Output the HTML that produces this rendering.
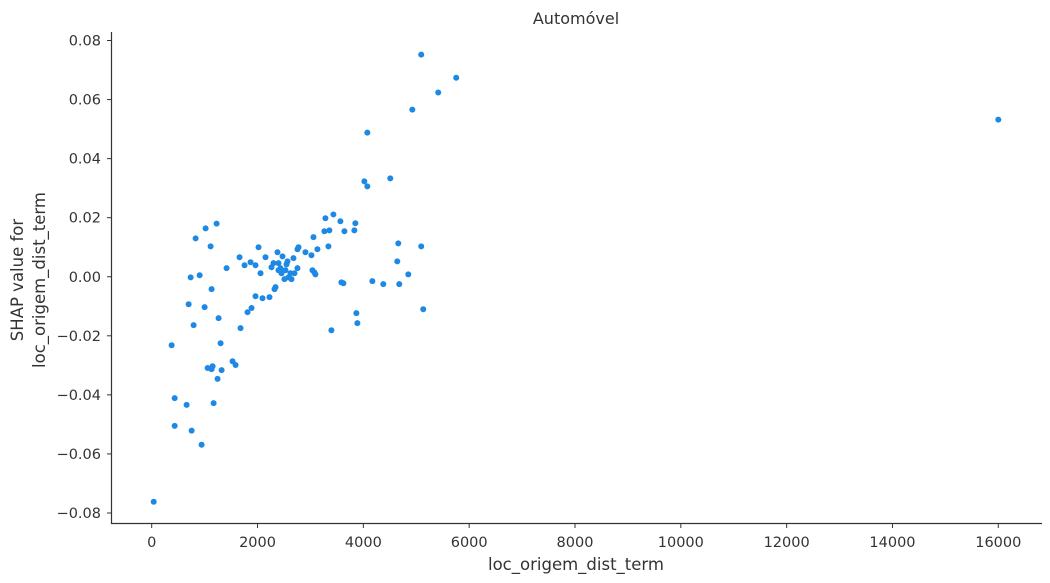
<!DOCTYPE html>
<html><head><meta charset="utf-8"><style>
html,body{margin:0;padding:0;background:#fff;}
svg{display:block;font-family:"DejaVu Sans","Liberation Sans",sans-serif;}
</style></head><body>
<svg id="chart" width="1050" height="583" xmlns="http://www.w3.org/2000/svg">
<text x="576" y="24" text-anchor="middle" font-size="16" fill="#333">Automóvel</text>
<text x="576" y="570" text-anchor="middle" font-size="16.5" fill="#333">loc_origem_dist_term</text>
<text transform="translate(23,280) rotate(-90)" text-anchor="middle" font-size="16.5" fill="#333"><tspan x="0" dy="0">SHAP value for</tspan><tspan x="0" dy="22">loc_origem_dist_term</tspan></text>
<g id="xticks"></g>
<g id="yticks"></g>
<g id="points"></g>
<line x1="111.5" y1="32" x2="111.5" y2="524" stroke="#333" stroke-width="1.2"/>
<line x1="111" y1="523.5" x2="1042" y2="523.5" stroke="#333" stroke-width="1.2"/>
</svg>
<script>
const xTickValues=[0,2000,4000,6000,8000,10000,12000,14000,16000];
const yTickValues=[-0.08,-0.06,-0.04,-0.02,0,0.02,0.04,0.06,0.08];
const distValues=[38,377,434,434,660,698,736,755,792,830,906,943,1000,1019,1057,1113,1132,1132,1151,1170,1227,1245,1264,1302,1321,1415,1528,1585,1660,1679,1755,1811,1868,1887,1962,1962,2019,2057,2094,2151,2226,2264,2302,2321,2340,2377,2396,2396,2434,2453,2472,2509,2528,2547,2566,2585,2623,2642,2679,2698,2755,2755,2774,2906,3019,3038,3057,3075,3094,3132,3264,3283,3340,3358,3396,3434,3566,3585,3623,3642,3830,3849,3868,3887,4019,4075,4075,4170,4377,4509,4641,4660,4679,4849,4925,5094,5132,5094,5415,5755,16000];
const shapValues=[-0.0762,-0.0232,-0.0411,-0.0505,-0.0434,-0.0093,-0.0002,-0.0521,-0.0164,0.0130,0.0005,-0.0569,-0.0103,0.0164,-0.0309,0.0103,-0.0042,-0.0313,-0.0303,-0.0428,0.0180,-0.0346,-0.0140,-0.0225,-0.0316,0.0029,-0.0286,-0.0299,0.0066,-0.0174,0.0039,-0.0120,0.0049,-0.0106,-0.0066,0.0039,0.0100,0.0012,-0.0073,0.0066,-0.0069,0.0032,0.0046,-0.0042,-0.0035,0.0083,0.0022,0.0046,0.0029,0.0012,0.0069,-0.0008,0.0022,0.0042,0.0052,-0.0002,0.0012,-0.0008,0.0063,0.0012,0.0029,0.0093,0.0100,0.0083,0.0073,0.0022,0.0134,0.0015,0.0008,0.0093,0.0154,0.0198,0.0103,0.0157,-0.0181,0.0211,0.0188,-0.0019,-0.0022,0.0154,0.0157,0.0181,-0.0123,-0.0157,0.0323,0.0488,0.0306,-0.0015,-0.0025,0.0333,0.0052,0.0113,-0.0025,0.0008,0.0566,0.0103,-0.0110,0.0752,0.0624,0.0674,0.0532];
const NS='http://www.w3.org/2000/svg';
function xScale(v){return 151.7+v*(846.6/16000);}
function yScale(v){return 276.75-v*(472.5/0.16);}
function fmtY(v){const s=Math.abs(v).toFixed(2);return (v<-1e-9?'\u2212':'')+s;}
const xg=document.getElementById('xticks');
xTickValues.forEach(v=>{
  const x=xScale(v);
  const l=document.createElementNS(NS,'line');
  l.setAttribute('x1',x);l.setAttribute('x2',x);l.setAttribute('y1',523.5);l.setAttribute('y2',528);
  l.setAttribute('stroke','#333');
  
  
  xg.appendChild(l);
  const t=document.createElementNS(NS,'text');
  t.setAttribute('x',x);t.setAttribute('y',547);t.setAttribute('text-anchor','middle');
  t.setAttribute('font-size','14.5');t.setAttribute('fill','#333');
  t.textContent=String(v);
  
  
  xg.appendChild(t);
});
const yg=document.getElementById('yticks');
yTickValues.forEach(v=>{
  const y=yScale(v);
  const l=document.createElementNS(NS,'line');
  l.setAttribute('x1',107);l.setAttribute('x2',111.5);l.setAttribute('y1',y);l.setAttribute('y2',y);
  l.setAttribute('stroke','#333');
  
  
  yg.appendChild(l);
  const t=document.createElementNS(NS,'text');
  t.setAttribute('x',101);t.setAttribute('y',y+5);t.setAttribute('text-anchor','end');
  t.setAttribute('font-size','14.5');t.setAttribute('fill','#333');
  t.textContent=fmtY(v);
  
  
  yg.appendChild(t);
});
const pg=document.getElementById('points');
distValues.forEach((d,i)=>{
  const c=document.createElementNS(NS,'circle');
  c.setAttribute('cx',xScale(d));c.setAttribute('cy',yScale(shapValues[i]));
  c.setAttribute('r',3);c.setAttribute('fill','#1e88e5');
  
  
  pg.appendChild(c);
});
</script>
</body></html>
